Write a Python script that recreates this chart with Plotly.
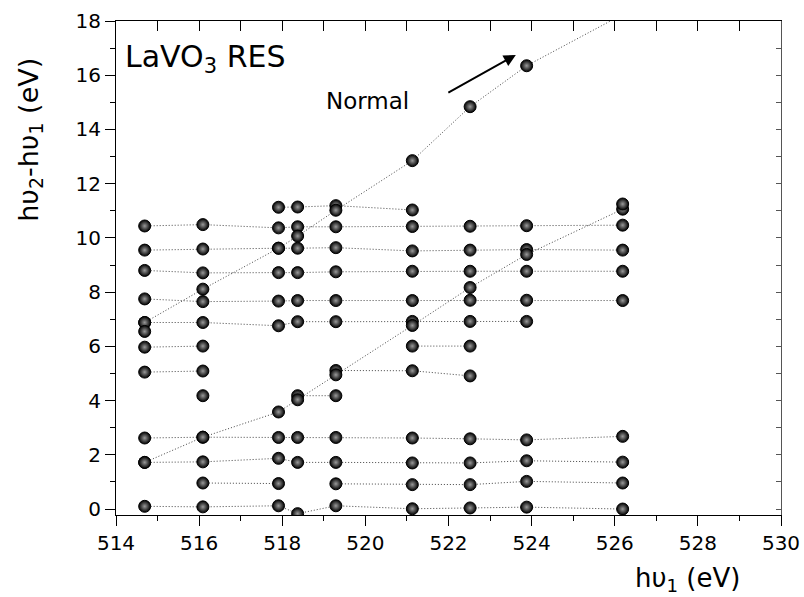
import plotly.graph_objects as go

# photon energy columns h\u03c5_1 (eV)
x_cols = [514.69, 516.09, 517.91, 518.37, 519.29, 521.13, 522.52, 523.88, 526.19]

# horizontal (constant-energy) series, None = no point
row_0 = [0.10, 0.08, 0.12, -0.17, 0.12, 0.01, 0.04, 0.07, 0.00]
row_1 = [None, 0.96, 0.94, None, 0.93, 0.90, 0.90, 1.02, 0.96]
row_2 = [1.72, 1.74, 1.87, 1.72, 1.72, 1.70, 1.70, 1.78, 1.73]
row_3 = [2.62, 2.65, 2.64, 2.64, 2.64, 2.62, 2.59, 2.55, 2.68]
row_4 = [None, None, None, 4.18, 4.18, None, None, None, None]
row_5 = [5.05, 5.09, None, None, 5.11, 5.10, 4.91, None, None]
row_6 = [5.97, 6.01, None, None, None, 6.01, 6.01, None, None]
row_7 = [6.88, 6.88, 6.76, 6.91, 6.91, 6.92, 6.92, 6.92, None]
row_8 = [7.75, 7.65, 7.67, 7.69, 7.69, 7.69, 7.70, 7.70, 7.69]
row_9 = [8.80, 8.71, 8.72, 8.72, 8.75, 8.77, 8.77, 8.77, 8.77]
row_10 = [9.55, 9.59, 9.62, 9.62, 9.64, 9.52, 9.55, 9.57, 9.55]
row_11 = [10.44, 10.49, 10.37, 10.41, 10.41, 10.42, 10.43, 10.45, 10.47]
row_12 = [None, None, 11.13, 11.14, 11.19, 11.03, None, None, None]
rows = [row_0, row_1, row_2, row_3, row_4, row_5, row_6, row_7,
        row_8, row_9, row_10, row_11, row_12]

# "Normal" (dispersive) series
normal_upper = [6.88, 8.11, 9.62, 10.07, 11.02, 12.85, 14.84, 16.35, 18.24]
normal_lower = [1.72, 2.65, 3.58, 4.03, 4.95, 6.77, 8.17, 9.39, 11.06]

# isolated points
extra_x = [514.69, 516.09, 526.19]
extra_y = [6.55, 4.18, 11.25]

font_family = "DejaVu Sans, sans-serif"
line_style = dict(color="#444444", width=1, dash="1px,2px")

fig = go.Figure()

for r in rows:
    fig.add_trace(go.Scatter(x=x_cols, y=r, mode="lines", line=line_style,
                             connectgaps=False, showlegend=False, hoverinfo="skip"))
for r in (normal_upper, normal_lower):
    fig.add_trace(go.Scatter(x=x_cols, y=r, mode="lines", line=line_style,
                             showlegend=False, hoverinfo="skip"))

# markers
mx, my = [], []
for r in rows + [normal_upper, normal_lower]:
    for xv, yv in zip(x_cols, r):
        if yv is not None:
            mx.append(xv)
            my.append(yv)
mx += extra_x
my += extra_y

fig.add_trace(go.Scatter(
    x=mx, y=my, mode="markers", showlegend=False, hoverinfo="skip",
    marker=dict(size=12, color="#000000",
                gradient=dict(type="radial", color="#9a9a9a"),
                line=dict(color="black", width=1)),
))

# invisible trace for top/right frame axes
fig.add_trace(go.Scatter(x=[514], y=[0], xaxis="x2", yaxis="y2", mode="markers",
                         marker=dict(opacity=0), showlegend=False, hoverinfo="skip"))

tickfont = dict(family=font_family, size=20, color="black")

fig.update_layout(
    width=804, height=597, autosize=False,
    margin=dict(l=116, r=23, t=21, b=82),
    paper_bgcolor="white", plot_bgcolor="white",
    font=dict(family=font_family, color="black"),
    hovermode=False,
    xaxis=dict(range=[514, 530], dtick=2, tick0=514, ticks="outside", ticklen=10,
               tickwidth=1, tickcolor="black", showline=True, linecolor="black",
               linewidth=1, showgrid=False, zeroline=False, tickfont=tickfont,
               ticklabeloverflow="allow", automargin=False,
               minor=dict(dtick=1, ticks="outside", ticklen=5, tickcolor="black")),
    yaxis=dict(range=[-0.22, 18], dtick=2, tick0=0, ticks="outside", ticklen=10,
               tickwidth=1, tickcolor="black", showline=True, linecolor="black",
               linewidth=1, showgrid=False, zeroline=False, tickfont=tickfont,
               ticklabeloverflow="allow", automargin=False,
               minor=dict(dtick=1, ticks="outside", ticklen=5, tickcolor="black")),
    xaxis2=dict(range=[514, 530], overlaying="x", side="top", anchor="y",
                dtick=1, tick0=514, ticks="inside", ticklen=10, tickcolor="black",
                showline=True, linecolor="black", linewidth=1, automargin=False,
                showticklabels=False, showgrid=False, zeroline=False),
    yaxis2=dict(range=[-0.22, 18], overlaying="y", side="right", anchor="x",
                dtick=1, tick0=0, ticks="inside", ticklen=5, tickcolor="#555555",
                showline=True, linecolor="#555555", linewidth=1, automargin=False,
                showticklabels=False, showgrid=False, zeroline=False),
    annotations=[
        dict(x=514.18, y=16.6, xref="x", yref="y", xanchor="left", yanchor="middle",
             text="LaVO<sub>3</sub> RES", showarrow=False,
             font=dict(family=font_family, size=30, color="black")),
        dict(x=519.0, y=15.05, xref="x", yref="y", xanchor="left", yanchor="middle",
             text="Normal", showarrow=False,
             font=dict(family=font_family, size=23, color="black")),
        dict(x=523.62, y=16.75, xref="x", yref="y", ax=521.96, ay=15.33,
             axref="x", ayref="y", text="", showarrow=True, arrowhead=2,
             arrowsize=1.2, arrowwidth=2, arrowcolor="black"),
        dict(x=-0.129, y=0.76, xref="paper", yref="paper", xanchor="center",
             yanchor="middle",
             text="h\u03c5<sub>2</sub>-h\u03c5<sub>1</sub> (eV)", textangle=-90,
             showarrow=False, font=dict(family=font_family, size=27, color="black")),
        dict(x=0.860, y=-0.131, xref="paper", yref="paper", xanchor="center",
             yanchor="middle",
             text="h\u03c5<sub>1</sub> (eV)", showarrow=False,
             font=dict(family=font_family, size=26, color="black")),
    ],
)

fig.write_html("out.html",
               config={"responsive": False, "displayModeBar": False},
               post_script="document.body.style.margin='0';"
                           "document.body.style.overflow='hidden';")
